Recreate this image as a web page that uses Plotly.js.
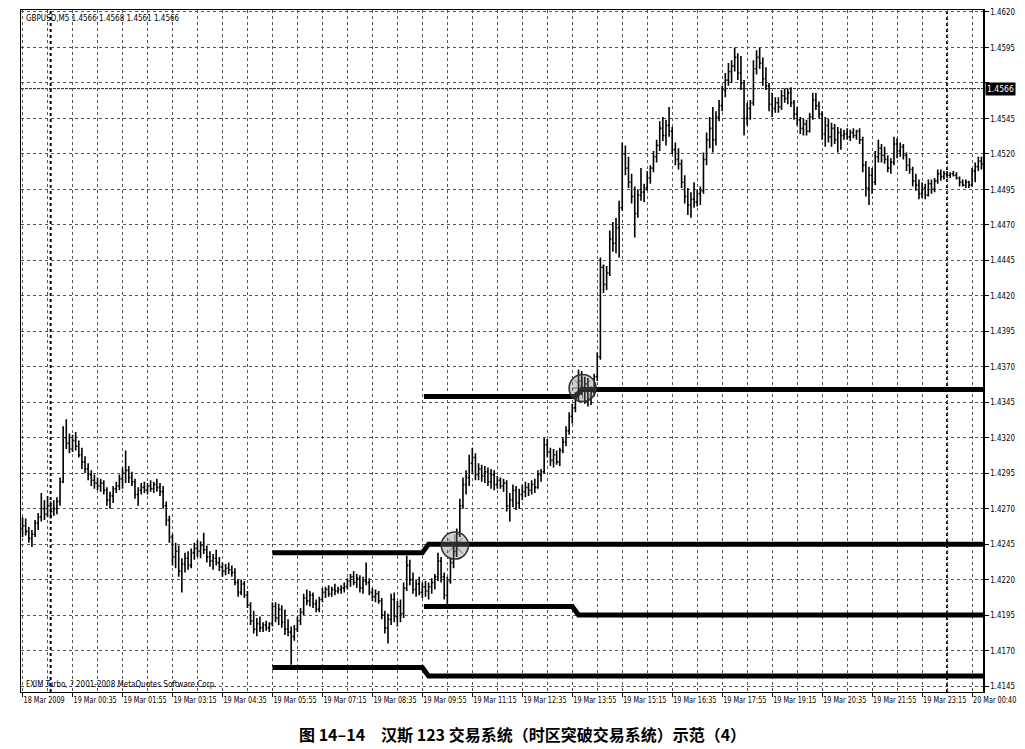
<!DOCTYPE html>
<html><head><meta charset="utf-8">
<script src="https://cdn.plot.ly/plotly-3.0.1.min.js"></script>
<style>html,body{margin:0;padding:0;background:#fff}#chart{width:1025px;height:749px}</style>
</head><body><div id="chart"></div>
<script>
const opens = [1.4256,1.4258,1.4254,1.4249,1.4252,1.4260,1.4264,1.4270,1.4266,1.4272,
1.4268,1.4270,1.4275,1.4289,1.4320,1.4316,1.4312,1.4318,1.4314,1.4308,
1.4303,1.4298,1.4294,1.4290,1.4288,1.4286,1.4288,1.4283,1.4276,1.4279,
1.4284,1.4286,1.4291,1.4295,1.4297,1.4292,1.4289,1.4280,1.4283,1.4285,
1.4283,1.4286,1.4284,1.4287,1.4285,1.4282,1.4272,1.4262,1.4250,1.4236,
1.4240,1.4226,1.4231,1.4235,1.4230,1.4239,1.4242,1.4240,1.4244,1.4241,
1.4236,1.4233,1.4235,1.4232,1.4229,1.4226,1.4228,1.4227,1.4225,1.4218,
1.4211,1.4217,1.4209,1.4202,1.4191,1.4185,1.4189,1.4186,1.4188,1.4186,
1.4189,1.4201,1.4193,1.4199,1.4190,1.4185,1.4183,1.4180,1.4185,1.4191,
1.4197,1.4207,1.4205,1.4209,1.4203,1.4199,1.4206,1.4211,1.4213,1.4210,
1.4213,1.4212,1.4213,1.4214,1.4215,1.4219,1.4222,1.4218,1.4221,1.4214,
1.4219,1.4218,1.4211,1.4208,1.4210,1.4205,1.4195,1.4186,1.4192,1.4206,
1.4194,1.4201,1.4196,1.4214,1.4230,1.4220,1.4213,1.4217,1.4211,1.4215,
1.4212,1.4215,1.4218,1.4222,1.4233,1.4222,1.4209,1.4219,1.4232,1.4240,
1.4252,1.4272,1.4287,1.4292,1.4302,1.4306,1.4294,1.4298,1.4293,1.4296,
1.4289,1.4294,1.4287,1.4290,1.4286,1.4288,1.4272,1.4276,1.4283,1.4274,
1.4280,1.4282,1.4285,1.4283,1.4287,1.4285,1.4294,1.4296,1.4315,1.4310,
1.4304,1.4308,1.4303,1.4311,1.4317,1.4325,1.4335,1.4341,1.4349,1.4360,
1.4354,1.4358,1.4348,1.4352,1.4363,1.4377,1.4440,1.4428,1.4436,1.4460,
1.4457,1.4468,1.4482,1.4520,1.4510,1.4500,1.4490,1.4478,1.4491,1.4493,
1.4496,1.4503,1.4510,1.4518,1.4526,1.4538,1.4533,1.4540,1.4536,1.4523,
1.4516,1.4513,1.4500,1.4490,1.4484,1.4488,1.4486,1.4492,1.4494,1.4516,
1.4530,1.4538,1.4530,1.4546,1.4554,1.4565,1.4572,1.4578,1.4582,1.4588,
1.4577,1.4570,1.4545,1.4552,1.4556,1.4580,1.4588,1.4584,1.4573,1.4568,
1.4555,1.4552,1.4556,1.4553,1.4561,1.4559,1.4563,1.4556,1.4548,1.4544,
1.4538,1.4541,1.4536,1.4546,1.4558,1.4554,1.4548,1.4534,1.4540,1.4532,
1.4538,1.4530,1.4535,1.4533,1.4534,1.4532,1.4535,1.4533,1.4536,1.4530,
1.4512,1.4496,1.4505,1.4500,1.4518,1.4524,1.4519,1.4516,1.4510,1.4514,
1.4527,1.4522,1.4525,1.4519,1.4512,1.4509,1.4501,1.4498,1.4492,1.4496,
1.4491,1.4499,1.4495,1.4501,1.4506,1.4504,1.4506,1.4505,1.4506,1.4505,
1.4503,1.4500,1.4498,1.4500,1.4498,1.4508,1.4511,1.4515];

const highs = [1.4264,1.4263,1.4257,1.4255,1.4262,1.4267,1.4281,1.4276,1.4279,1.4275,
1.4276,1.4278,1.4292,1.4328,1.4333,1.4323,1.4322,1.4324,1.4318,1.4313,
1.4307,1.4302,1.4297,1.4294,1.4292,1.4291,1.4290,1.4285,1.4282,1.4286,
1.4289,1.4294,1.4299,1.4311,1.4300,1.4296,1.4291,1.4285,1.4288,1.4289,
1.4288,1.4290,1.4289,1.4291,1.4288,1.4286,1.4275,1.4265,1.4252,1.4246,
1.4244,1.4235,1.4239,1.4240,1.4242,1.4246,1.4248,1.4247,1.4253,1.4244,
1.4240,1.4238,1.4241,1.4236,1.4232,1.4231,1.4232,1.4230,1.4228,1.4220,
1.4220,1.4219,1.4212,1.4204,1.4198,1.4193,1.4194,1.4190,1.4191,1.4190,
1.4204,1.4204,1.4203,1.4202,1.4199,1.4192,1.4187,1.4188,1.4194,1.4200,
1.4210,1.4213,1.4212,1.4211,1.4206,1.4208,1.4214,1.4215,1.4216,1.4215,
1.4217,1.4215,1.4216,1.4218,1.4221,1.4224,1.4226,1.4224,1.4223,1.4222,
1.4232,1.4221,1.4214,1.4213,1.4212,1.4207,1.4198,1.4196,1.4210,1.4211,
1.4205,1.4206,1.4218,1.4237,1.4234,1.4225,1.4220,1.4222,1.4218,1.4219,
1.4218,1.4221,1.4224,1.4239,1.4236,1.4225,1.4222,1.4235,1.4245,1.4256,
1.4277,1.4292,1.4297,1.4308,1.4313,1.4309,1.4302,1.4301,1.4300,1.4299,
1.4298,1.4297,1.4293,1.4292,1.4291,1.4290,1.4281,1.4287,1.4286,1.4284,
1.4287,1.4289,1.4288,1.4290,1.4291,1.4297,1.4298,1.4320,1.4319,1.4313,
1.4312,1.4311,1.4313,1.4320,1.4328,1.4338,1.4344,1.4352,1.4368,1.4367,
1.4363,1.4362,1.4356,1.4365,1.4380,1.4447,1.4442,1.4441,1.4466,1.4472,
1.4475,1.4487,1.4528,1.4526,1.4518,1.4506,1.4497,1.4495,1.4510,1.4499,
1.4508,1.4512,1.4522,1.4530,1.4543,1.4546,1.4544,1.4553,1.4539,1.4528,
1.4524,1.4516,1.4505,1.4496,1.4493,1.4500,1.4495,1.4497,1.4521,1.4535,
1.4546,1.4553,1.4550,1.4558,1.4568,1.4577,1.4584,1.4586,1.4595,1.4591,
1.4589,1.4572,1.4556,1.4558,1.4586,1.4593,1.4595,1.4588,1.4581,1.4570,
1.4563,1.4560,1.4560,1.4565,1.4566,1.4566,1.4567,1.4558,1.4553,1.4546,
1.4545,1.4544,1.4549,1.4563,1.4563,1.4557,1.4550,1.4546,1.4545,1.4542,
1.4541,1.4539,1.4538,1.4537,1.4538,1.4537,1.4538,1.4537,1.4538,1.4532,
1.4515,1.4511,1.4510,1.4522,1.4530,1.4527,1.4525,1.4519,1.4517,1.4532,
1.4531,1.4528,1.4527,1.4521,1.4517,1.4511,1.4506,1.4502,1.4500,1.4499,
1.4502,1.4502,1.4503,1.4509,1.4509,1.4508,1.4508,1.4507,1.4508,1.4507,
1.4504,1.4502,1.4502,1.4501,1.4510,1.4514,1.4518,1.4518];

const lows = [1.4250,1.4251,1.4246,1.4243,1.4250,1.4255,1.4261,1.4262,1.4264,1.4263,
1.4265,1.4266,1.4272,1.4288,1.4312,1.4309,1.4310,1.4311,1.4306,1.4298,
1.4295,1.4290,1.4286,1.4284,1.4283,1.4282,1.4280,1.4272,1.4270,1.4274,
1.4281,1.4283,1.4284,1.4288,1.4288,1.4286,1.4277,1.4272,1.4280,1.4281,
1.4280,1.4282,1.4281,1.4282,1.4279,1.4270,1.4258,1.4246,1.4230,1.4228,
1.4222,1.4211,1.4225,1.4227,1.4228,1.4234,1.4236,1.4235,1.4238,1.4232,
1.4229,1.4227,1.4230,1.4226,1.4222,1.4223,1.4224,1.4222,1.4216,1.4208,
1.4209,1.4207,1.4200,1.4188,1.4182,1.4180,1.4183,1.4183,1.4184,1.4183,
1.4187,1.4190,1.4188,1.4186,1.4181,1.4180,1.4160,1.4177,1.4183,1.4188,
1.4195,1.4202,1.4201,1.4200,1.4197,1.4197,1.4204,1.4207,1.4208,1.4208,
1.4209,1.4210,1.4210,1.4211,1.4213,1.4215,1.4216,1.4214,1.4211,1.4210,
1.4216,1.4209,1.4205,1.4204,1.4203,1.4192,1.4182,1.4175,1.4188,1.4190,
1.4187,1.4190,1.4193,1.4212,1.4216,1.4210,1.4208,1.4209,1.4207,1.4208,
1.4206,1.4210,1.4213,1.4219,1.4218,1.4206,1.4201,1.4217,1.4228,1.4236,
1.4250,1.4270,1.4280,1.4286,1.4295,1.4290,1.4290,1.4289,1.4288,1.4286,
1.4284,1.4283,1.4284,1.4284,1.4282,1.4268,1.4261,1.4271,1.4269,1.4270,
1.4276,1.4278,1.4279,1.4280,1.4281,1.4284,1.4289,1.4295,1.4306,1.4300,
1.4299,1.4301,1.4300,1.4309,1.4314,1.4322,1.4330,1.4338,1.4346,1.4350,
1.4344,1.4342,1.4343,1.4349,1.4360,1.4375,1.4422,1.4424,1.4434,1.4451,
1.4450,1.4447,1.4480,1.4505,1.4496,1.4485,1.4461,1.4475,1.4487,1.4486,
1.4494,1.4499,1.4507,1.4514,1.4522,1.4529,1.4526,1.4532,1.4520,1.4512,
1.4509,1.4496,1.4485,1.4477,1.4475,1.4482,1.4483,1.4484,1.4492,1.4512,
1.4524,1.4521,1.4526,1.4543,1.4550,1.4560,1.4568,1.4570,1.4578,1.4572,
1.4565,1.4533,1.4540,1.4544,1.4554,1.4576,1.4580,1.4568,1.4565,1.4550,
1.4546,1.4549,1.4549,1.4551,1.4556,1.4555,1.4553,1.4544,1.4540,1.4534,
1.4533,1.4533,1.4535,1.4544,1.4551,1.4545,1.4530,1.4525,1.4528,1.4525,
1.4527,1.4521,1.4523,1.4530,1.4530,1.4529,1.4531,1.4530,1.4527,1.4507,
1.4490,1.4484,1.4492,1.4498,1.4514,1.4514,1.4513,1.4507,1.4506,1.4512,
1.4517,1.4518,1.4516,1.4508,1.4506,1.4497,1.4494,1.4488,1.4489,1.4488,
1.4490,1.4492,1.4493,1.4499,1.4501,1.4502,1.4503,1.4503,1.4504,1.4502,
1.4497,1.4497,1.4496,1.4496,1.4497,1.4500,1.4508,1.4509];

const closes = [1.4258,1.4254,1.4249,1.4252,1.4260,1.4264,1.4270,1.4266,1.4272,1.4268,
1.4270,1.4275,1.4289,1.4320,1.4316,1.4312,1.4318,1.4314,1.4308,1.4303,
1.4298,1.4294,1.4290,1.4288,1.4286,1.4288,1.4283,1.4276,1.4279,1.4284,
1.4286,1.4291,1.4295,1.4297,1.4292,1.4289,1.4280,1.4283,1.4285,1.4283,
1.4286,1.4284,1.4287,1.4285,1.4282,1.4272,1.4262,1.4250,1.4236,1.4240,
1.4226,1.4231,1.4235,1.4230,1.4239,1.4242,1.4240,1.4244,1.4241,1.4236,
1.4233,1.4235,1.4232,1.4229,1.4226,1.4228,1.4227,1.4225,1.4218,1.4211,
1.4217,1.4209,1.4202,1.4191,1.4185,1.4189,1.4186,1.4188,1.4186,1.4189,
1.4201,1.4193,1.4199,1.4190,1.4185,1.4183,1.4180,1.4185,1.4191,1.4197,
1.4207,1.4205,1.4209,1.4203,1.4199,1.4206,1.4211,1.4213,1.4210,1.4213,
1.4212,1.4213,1.4214,1.4215,1.4219,1.4222,1.4218,1.4221,1.4214,1.4219,
1.4218,1.4211,1.4208,1.4210,1.4205,1.4195,1.4186,1.4192,1.4206,1.4194,
1.4201,1.4196,1.4214,1.4230,1.4220,1.4213,1.4217,1.4211,1.4215,1.4212,
1.4215,1.4218,1.4222,1.4233,1.4222,1.4209,1.4219,1.4232,1.4240,1.4252,
1.4272,1.4287,1.4292,1.4302,1.4306,1.4294,1.4298,1.4293,1.4296,1.4289,
1.4294,1.4287,1.4290,1.4286,1.4288,1.4272,1.4276,1.4283,1.4274,1.4280,
1.4282,1.4285,1.4283,1.4287,1.4285,1.4294,1.4296,1.4315,1.4310,1.4304,
1.4308,1.4303,1.4311,1.4317,1.4325,1.4335,1.4341,1.4349,1.4360,1.4354,
1.4358,1.4348,1.4352,1.4363,1.4377,1.4440,1.4428,1.4436,1.4460,1.4457,
1.4468,1.4482,1.4520,1.4510,1.4500,1.4490,1.4478,1.4491,1.4493,1.4496,
1.4503,1.4510,1.4518,1.4526,1.4538,1.4533,1.4540,1.4536,1.4523,1.4516,
1.4513,1.4500,1.4490,1.4484,1.4488,1.4486,1.4492,1.4494,1.4516,1.4530,
1.4538,1.4530,1.4546,1.4554,1.4565,1.4572,1.4578,1.4582,1.4588,1.4577,
1.4570,1.4545,1.4552,1.4556,1.4580,1.4588,1.4584,1.4573,1.4568,1.4555,
1.4552,1.4556,1.4553,1.4561,1.4559,1.4563,1.4556,1.4548,1.4544,1.4538,
1.4541,1.4536,1.4546,1.4558,1.4554,1.4548,1.4534,1.4540,1.4532,1.4538,
1.4530,1.4535,1.4533,1.4534,1.4532,1.4535,1.4533,1.4536,1.4530,1.4512,
1.4496,1.4505,1.4500,1.4518,1.4524,1.4519,1.4516,1.4510,1.4514,1.4527,
1.4522,1.4525,1.4519,1.4512,1.4509,1.4501,1.4498,1.4492,1.4496,1.4491,
1.4499,1.4495,1.4501,1.4506,1.4504,1.4506,1.4505,1.4506,1.4505,1.4503,
1.4500,1.4498,1.4500,1.4498,1.4508,1.4511,1.4515,1.4513];

// time axis labels (bar index of each labelled bar)
const tickBars = [0,16,32,48,64,80,96,112,128,144,160,176,192,208,224,240,256,272,288,304];
const tickLabels = ["18 Mar 2009","19 Mar 00:35","19 Mar 01:55","19 Mar 03:15","19 Mar 04:35",
  "19 Mar 05:55","19 Mar 07:15","19 Mar 08:35","19 Mar 09:55","19 Mar 11:15","19 Mar 12:35",
  "19 Mar 13:55","19 Mar 15:15","19 Mar 16:35","19 Mar 17:55","19 Mar 19:15","19 Mar 20:35",
  "19 Mar 21:55","19 Mar 23:15","20 Mar 00:40"];
const priceTicks = [1.4145,1.4170,1.4195,1.4220,1.4245,1.4270,1.4295,1.4320,1.4345,1.4370,
  1.4395,1.4420,1.4445,1.4470,1.4495,1.4520,1.4545,1.4570,1.4595,1.4620];
const daySeparatorBars = [9, 296];
const bidPrice = 1.4566;
const headerText = "GBPUSD,M5 1.4566 1.4568 1.4561 1.4566";
const footerText = "FXIM Turbo, ? 2001-2008 MetaQuotes Software Corp.";
const captionText = "图 14–14　汉斯 123 交易系统（时区突破交易系统）示范（4）";

// Hans 123 breakout levels (bar index, price)
const upperBreakX = [128.5, 177, 179, 307.5];
const upperBreakY = [1.4349, 1.4349, 1.4354, 1.4354];
const rangeHighX = [80, 128, 130, 307.5];
const rangeHighY = [1.4239, 1.4239, 1.4245, 1.4245];
const upperStopX = [128.5, 176, 178, 307.5];
const upperStopY = [1.4201, 1.4201, 1.4195, 1.4195];
const rangeLowX = [80, 128, 130, 307.5];
const rangeLowY = [1.4158, 1.4158, 1.4152, 1.4152];
// entry signals
const signalBars = [138.4, 179.3];
const signalPrices = [1.4244, 1.4355];

const bars = opens.map((_, i) => i);
const FONT = "'Liberation Sans Narrow','DejaVu Sans Condensed','Liberation Sans',Arial,sans-serif";
// the bid-price box covers the price label it sits on
const priceTickText = priceTicks.map(p => Math.abs(p - bidPrice) < 0.0008 ? '' : p.toFixed(4));

const levelLine = (x, y) => ({type:'scatter', mode:'lines', x:x, y:y,
  line:{color:'#000', width:5}, hoverinfo:'skip', showlegend:false, cliponaxis:true});

const traces = [
  {type:'ohlc', x:bars, open:opens, high:highs, low:lows, close:closes,
   increasing:{line:{color:'#000', width:1.6}}, decreasing:{line:{color:'#000', width:1.6}},
   tickwidth:0.4, hoverinfo:'skip', showlegend:false},
  levelLine(upperBreakX, upperBreakY),
  levelLine(rangeHighX, rangeHighY),
  levelLine(upperStopX, upperStopY),
  levelLine(rangeLowX, rangeLowY),
  {type:'scatter', mode:'markers', x:signalBars, y:signalPrices,
   marker:{symbol:'circle', size:27, color:'rgba(120,120,120,0.35)', line:{color:'#333', width:1.6}},
   hoverinfo:'skip', showlegend:false},
  {type:'scatter', mode:'markers', x:signalBars, y:signalPrices,
   marker:{symbol:'asterisk-open', size:18, color:'rgba(50,50,50,0.6)', line:{color:'rgba(50,50,50,0.6)', width:1}},
   hoverinfo:'skip', showlegend:false}
];

const shapes = daySeparatorBars.map(b => ({type:'line', xref:'x', yref:'paper', x0:b, x1:b, y0:0, y1:1,
  line:{color:'#000', width:2, dash:'dot'}, layer:'below'}));
shapes.push({type:'line', xref:'paper', yref:'y', x0:0, x1:1, y0:bidPrice, y1:bidPrice,
  line:{color:'#222', width:1, dash:'3px,1px'}, layer:'below'});

const layout = {
  width:1025, height:749,
  margin:{l:21, r:42, t:10, b:57},
  paper_bgcolor:'#fff', plot_bgcolor:'#fff',
  showlegend:false,
  font:{family:FONT, size:8, color:'#000'},
  xaxis:{range:[-0.5, 307.5], tickmode:'array', tickvals:tickBars, ticktext:tickLabels,
    tickangle:0, ticklabelposition:'outside right', ticklabeloverflow:'allow',
    ticks:'outside', ticklen:4, tickcolor:'#000',
    showgrid:true, gridcolor:'#555', griddash:'dot', gridwidth:1,
    minor:{tickmode:'linear', tick0:8, dtick:16, showgrid:true, gridcolor:'#555', griddash:'dot', gridwidth:1, ticks:''},
    showline:true, linecolor:'#000', linewidth:1, mirror:true, zeroline:false,
    rangeslider:{visible:false}, fixedrange:true, tickfont:{family:FONT, size:8, color:'#000'}},
  yaxis:{side:'right', range:[1.41408, 1.46214], tickmode:'array', tickvals:priceTicks, ticktext:priceTickText,
    ticks:'outside', ticklen:4, tickcolor:'#000', ticklabeloverflow:'allow',
    showgrid:true, gridcolor:'#555', griddash:'dot', gridwidth:1,
    showline:true, linecolor:'#000', linewidth:1.5, mirror:true, zeroline:false, fixedrange:true,
    tickfont:{family:FONT, size:9, color:'#000'}},
  shapes:shapes,
  annotations:[
    {xref:'paper', yref:'paper', x:0.003, y:0.988, xanchor:'left', yanchor:'middle', showarrow:false,
     text:headerText, font:{family:FONT, size:8, color:'#000'}},
    {xref:'paper', yref:'paper', x:0.003, y:0.011, xanchor:'left', yanchor:'middle', showarrow:false,
     text:footerText, font:{family:FONT, size:8, color:'#000'}},
    {xref:'paper', yref:'y', x:1, y:bidPrice, xanchor:'left', yanchor:'middle', xshift:2, showarrow:false,
     text:bidPrice.toFixed(4), bgcolor:'#000', font:{family:FONT, size:8.5, color:'#fff'}, borderpad:1},
    {xref:'paper', yref:'paper', x:0.521, y:-0.061, xanchor:'center', yanchor:'middle', showarrow:false,
     text:captionText, font:{family:"'Noto Sans CJK SC',sans-serif", size:16, color:'#000', weight:'bold'}}
  ]
};

// condense axis labels like the narrow terminal font of the original
function condense(gd, selector, factor) {
  gd.querySelectorAll(selector).forEach(t => {
    const w = t.getComputedTextLength();
    if (w > 0) {
      t.setAttribute('textLength', (w * factor).toFixed(1));
      t.setAttribute('lengthAdjust', 'spacingAndGlyphs');
    }
  });
}

Plotly.newPlot('chart', traces, layout, {staticPlot:true, displayModeBar:false}).then(gd => {
  condense(gd, '.xtick text', 0.9);
  condense(gd, '.ytick text', 0.87);
});
</script></body></html>
